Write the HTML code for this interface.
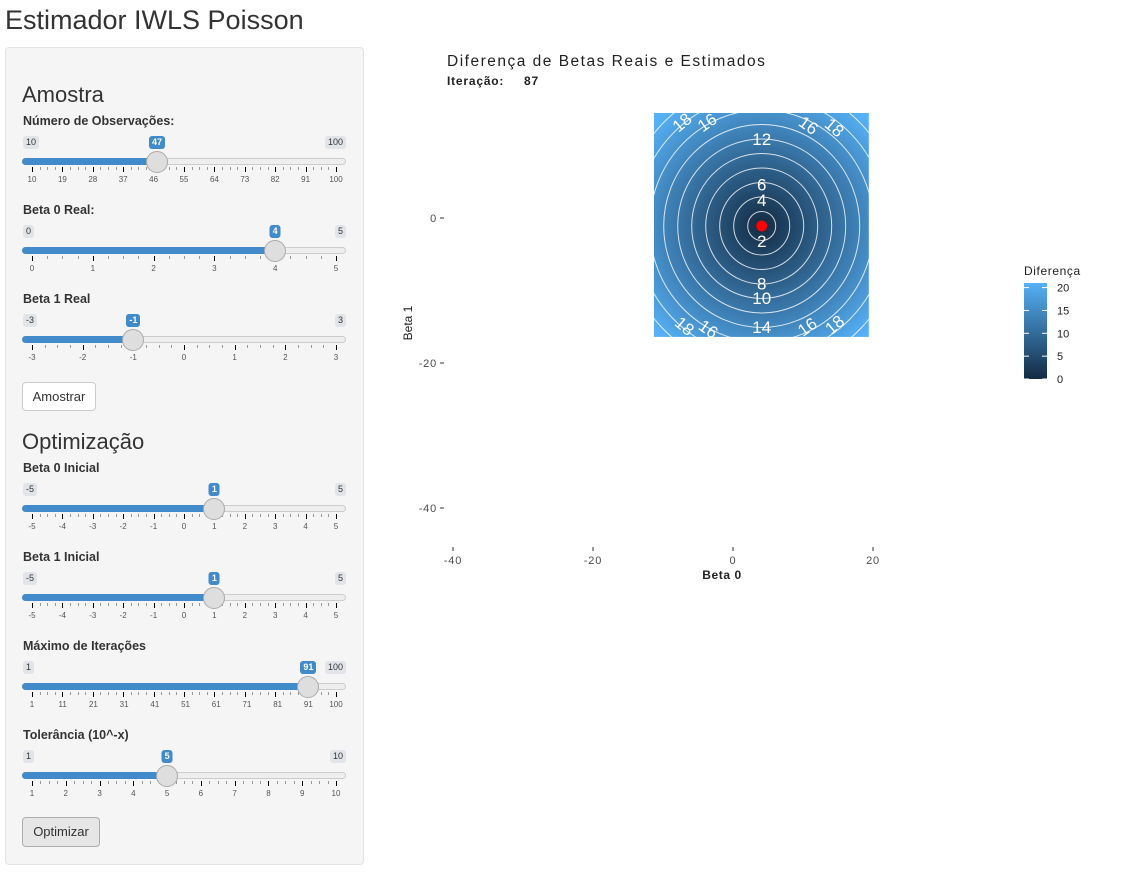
<!DOCTYPE html>
<html><head><meta charset="utf-8">
<style>
body{margin:0;width:1131px;height:893px;background:#fff;font-family:"Liberation Sans",Arial,sans-serif;color:#333;position:relative;overflow:hidden}
h2{position:absolute;left:5px;top:5px;margin:0;font-size:27px;font-weight:normal;color:#333}
#panel{position:absolute;left:5px;top:47px;width:357px;height:816px;background:#f5f5f5;border:1px solid #e3e3e3;border-radius:4px}
.h3{position:absolute;left:22px;font-size:22px;color:#333}
.lbl{position:absolute;left:23px;font-size:12.5px;font-weight:bold;color:#333}
.badge{position:absolute;font-size:9px;padding:1px 3px;border-radius:3px;background:#e1e4e9;color:#333;line-height:11px}
.badge.val{background:#428bca;color:#fff;font-weight:bold}
.track{position:absolute;left:22px;width:324px;height:7px;border-radius:4px;background:#eee;border:1px solid #ccc;box-sizing:border-box}
.fill{position:absolute;left:22px;height:7px;border-radius:4px 0 0 4px;background:#428bca}
.handle{position:absolute;width:22px;height:22px;border-radius:50%;background:#dedede;border:1px solid #aaa;box-sizing:border-box}
.tick{position:absolute;width:1px;background:#000}
.tl{position:absolute;font-size:8px;color:#555;transform:translateX(-50%)}
.btn{position:absolute;left:22px;background:#fff;border:1px solid #ccc;border-radius:4px;font-size:13px;text-align:center;box-sizing:border-box}
</style></head><body>
<h2>Estimador IWLS Poisson</h2>
<div id="panel"></div>
<div class="h3" style="top:82px">Amostra</div>
<div class="btn" style="top:382px;width:74px;height:29px;line-height:27px">Amostrar</div>
<div class="h3" style="top:429px">Optimização</div>
<div class="btn" style="top:817px;width:78px;height:30px;line-height:28px;background:#e6e6e6;border-color:#adadad">Optimizar</div>
<div id="sliders"></div>

<svg id="chart" width="1131" height="893" style="position:absolute;left:0;top:0">
<defs>
<clipPath id="clip"><rect x="654" y="113" width="215" height="224"/></clipPath>
<linearGradient id="lg" x1="0" y1="1" x2="0" y2="0"><stop offset="0" stop-color="#132B43"/><stop offset="1" stop-color="#56B1F7"/></linearGradient>
</defs>
<text x="447" y="66" font-size="15.5" fill="#222" letter-spacing="1.5">Diferença de Betas Reais e Estimados</text>
<text x="447" y="85" font-size="12" fill="#222" font-weight="bold" letter-spacing="0.8">Iteração:<tspan x="524">87</tspan></text>
<g id="plot"></g>
<g id="axes"></g>
<text x="722" y="579" font-size="12" fill="#222" text-anchor="middle" font-weight="bold" letter-spacing="0.6">Beta 0</text>
<text transform="translate(412,323) rotate(-90)" font-size="12" fill="#222" text-anchor="middle">Beta 1</text>
<text x="1024" y="275" font-size="12" fill="#222" letter-spacing="0.6">Diferença</text>
<rect x="1024" y="283" width="23" height="96" fill="url(#lg)"/>
<g id="legend"></g>
</svg>

<script>
// chart data
const trueBeta = [4.1, -1.1];
const b0Range = [-11.4, 19.4];
const b1Range = [-16.4, 14.5];
const contourLevels = [2,4,6,8,10,12,14,16,18,20,22];
const xTicks = [-40,-20,0,20];
const yTicks = [0,-20,-40];
const legendTicks = [0,5,10,15,20];
const legendMax = 21;
const labelPos = [[2,4.1,-3.2,0],[4,4.1,2.5,0],[6,4.1,4.6,0],[8,4.1,-9.0,0],[10,4.1,-11.0,0],[12,4.1,10.9,0],[14,4.1,-15.0,0],
  [18,-7.3,13.2,-40],[16,-3.7,13.2,-35],[16,10.8,12.8,35],[18,14.5,12.5,40],
  [18,-6.9,-14.9,40],[16,-3.5,-15.3,35],[16,10.6,-15.0,-35],[18,14.5,-14.7,-40]];

const X = v => 733 + v*7.0;
const Y = v => 218 - v*7.25;
const NS = "http://www.w3.org/2000/svg";
function mk(tag, attrs, parent){const e=document.createElementNS(NS,tag);for(const k in attrs)e.setAttribute(k,attrs[k]);parent.appendChild(e);return e;}
function lerpColor(t){const a=[0x13,0x2B,0x43],b=[0x56,0xB1,0xF7];return 'rgb('+a.map((c,i)=>Math.round(c+(b[i]-c)*t)).join(',')+')';}

const plot=document.getElementById('plot');
const g=mk('g',{'clip-path':'url(#clip)'},plot);
const cx=X(trueBeta[0]), cy=Y(trueBeta[1]);
const defs=document.querySelector('defs');
const rg=mk('radialGradient',{id:'rg',gradientUnits:'userSpaceOnUse',cx:cx,cy:cy,r:legendMax*7.1},defs);
for(let i=0;i<=10;i++){mk('stop',{offset:i/10,'stop-color':lerpColor(i/10)},rg);}
const bg=mk('rect',{x:X(b0Range[0]),y:Y(b1Range[1]),width:X(b0Range[1])-X(b0Range[0]),height:Y(b1Range[0])-Y(b1Range[1]),fill:'url(#rg)'},g);


contourLevels.forEach(l=>{
  const c=mk('ellipse',{cx:cx,cy:cy,rx:l*7.0,ry:l*7.25,fill:'none',stroke:'#fff','stroke-width':1,opacity:0.8},g);
  
  
});
labelPos.forEach(p=>{
  const x=X(p[1]), y=Y(p[2]);
  const t=mk('text',{x:x,y:y+6,'font-size':17,fill:'#fff','text-anchor':'middle',transform:'rotate('+p[3]+' '+x+' '+y+')'},g);
  t.textContent=p[0];
  
  
});
const pt=mk('circle',{cx:cx,cy:cy,r:5.5,fill:'#f00'},plot);



const axes=document.getElementById('axes');
xTicks.forEach(v=>{
  mk('line',{x1:X(v),x2:X(v),y1:547,y2:551,stroke:'#333'},axes);
  const t=mk('text',{x:X(v),y:564,'font-size':11,fill:'#4d4d4d','text-anchor':'middle','letter-spacing':0.8},axes);
  t.textContent=v;
  
  
});
yTicks.forEach(v=>{
  mk('line',{x1:440,x2:444,y1:Y(v),y2:Y(v),stroke:'#333'},axes);
  const t=mk('text',{x:437,y:Y(v)+4,'font-size':11,fill:'#4d4d4d','text-anchor':'end','letter-spacing':0.8},axes);
  t.textContent=v;
  
  
});
const leg=document.getElementById('legend');
legendTicks.forEach(v=>{
  const y=379-v/legendMax*96;
  mk('line',{x1:1024,x2:1029,y1:y,y2:y,stroke:'#fff'},leg);
  mk('line',{x1:1042,x2:1047,y1:y,y2:y,stroke:'#fff'},leg);
  const t=mk('text',{x:1057,y:y+4,'font-size':11,fill:'#222'},leg);
  t.textContent=v;
  
  
});

// sliders
const sliders=[
 {name:'Número de Observações:',top:114,min:10,max:100,val:47,labels:[10,19,28,37,46,55,64,73,82,91,100]},
 {name:'Beta 0 Real:',top:203,min:0,max:5,val:4,labels:[0,1,2,3,4,5]},
 {name:'Beta 1 Real',top:292,min:-3,max:3,val:-1,labels:[-3,-2,-1,0,1,2,3]},
 {name:'Beta 0 Inicial',top:461,min:-5,max:5,val:1,labels:[-5,-4,-3,-2,-1,0,1,2,3,4,5]},
 {name:'Beta 1 Inicial',top:550,min:-5,max:5,val:1,labels:[-5,-4,-3,-2,-1,0,1,2,3,4,5]},
 {name:'Máximo de Iterações',top:639,min:1,max:100,val:91,labels:[1,11,21,31,41,51,61,71,81,91,100]},
 {name:'Tolerância (10^-x)',top:728,min:1,max:10,val:5,labels:[1,2,3,4,5,6,7,8,9,10]}
];
const sc=document.getElementById('sliders');
function div(cls,style,txt){const d=document.createElement('div');d.className=cls;d.style.cssText=style;if(txt!==undefined)d.textContent=txt;sc.appendChild(d);return d;}
sliders.forEach((s,i)=>{
  const T=s.top, px=v=>32+(v-s.min)/(s.max-s.min)*304;
  const l=div('lbl','top:'+T+'px',s.name);
  
  
  div('badge','left:23px;top:'+(T+22)+'px',s.min);
  div('badge','right:'+(1131-346)+'px;top:'+(T+22)+'px',s.max);
  const tr=div('track','top:'+(T+44)+'px');
  
  
  div('fill','top:'+(T+44)+'px;width:'+(px(s.val)-22)+'px');
  const n=s.labels.length-1;
  for(let k=0;k<=n*4;k++){
    const x=32+k*304/(n*4); if(x>336.5)break;
    div('tick','left:'+x+'px;top:'+(T+53)+'px;height:'+(k%4===0?5:3)+'px;background:'+(k%4===0?'#000':'#999'));
  }
  s.labels.forEach(v=>{div('tl','left:'+px(v)+'px;top:'+(T+61)+'px',v);});
  const h=div('handle','left:'+(px(s.val)-11)+'px;top:'+(T+37)+'px');
  
  
  const vb=div('badge val','left:'+px(s.val)+'px;top:'+(T+22)+'px;transform:translateX(-50%)',s.val);
  
  
});
</script>
</body></html>
